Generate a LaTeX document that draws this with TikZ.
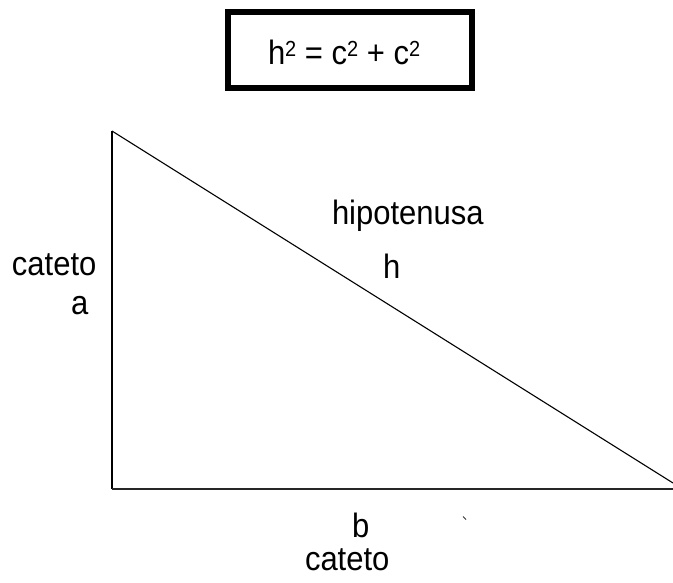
\documentclass[tikz,border=0pt]{standalone}
\usepackage{fontspec}
\usepackage{graphicx}
\setmainfont{Liberation Sans}
\tikzset{
  lbl/.style={anchor=base west, inner sep=0pt, outer sep=0pt, font=\fontsize{31}{36}\selectfont},
  side/.style={draw=black, line width=1.1pt},
  frame/.style={draw=black, line width=6pt, minimum width=244pt, minimum height=76pt, inner sep=0pt}
}
\newcommand{\tall}[1]{\scalebox{1}[1.09]{#1}}
\newcommand{\sq}{\raisebox{8pt}{\fontsize{20}{20}\selectfont 2}}
\begin{document}
\begin{tikzpicture}[x=1pt,y=-1pt]
\useasboundingbox (0,0) rectangle (673,583);
% formula box
\node[frame] (box) at (350,50) {};
\node[lbl] (formula) at (268,65) {\tall{h\sq{} = c\sq{} + c\sq}};
% triangle vertices
\coordinate (A) at (112,131);
\coordinate (B) at (112,489);
\coordinate (C) at (673,489);
\coordinate (Ch) at (673,483);
\draw[side] (A) -- (B);
\draw[side, line width=2pt, draw=black!85] (B) -- (C);
\draw[side] (A) -- (Ch);
% labels
\node[lbl] (hip) at (332,225) {\tall{hipotenusa}};
\node[lbl] (h) at (383,279) {\tall{h}};
\node[lbl] (catA) at (12,276) {\tall{cateto}};
\node[lbl] (a) at (71,315) {\tall{a}};
\node[lbl] (b) at (352,537) {\tall{b}};
\node[lbl] (catB) at (305,570) {\tall{cateto}};
% stray mark
\coordinate (m1) at (463,516.5);
\coordinate (m2) at (466,519.5);
\draw[line width=1pt, draw=black!80] (m1) -- (m2);
\end{tikzpicture}
\end{document}
